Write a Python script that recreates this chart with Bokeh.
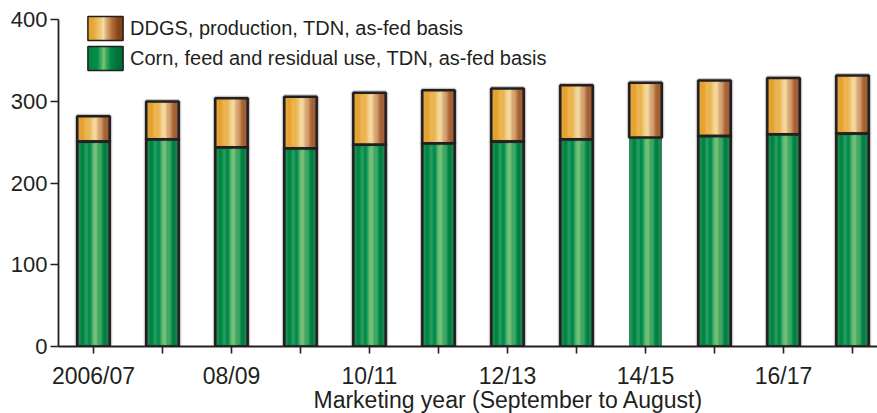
import numpy as np
from bokeh.plotting import figure
from bokeh.core.properties import value
from bokeh.models import (ColumnDataSource, Range1d, FixedTicker, Legend, LegendItem,
                          Title, CanvasTexture)
from bokeh.transform import dodge
from bokeh.embed import file_html
from bokeh.resources import INLINE

# ---------------- data ----------------
years = ["2006/07", "2007/08", "2008/09", "2009/10", "2010/11", "2011/12",
         "2012/13", "2013/14", "2014/15", "2015/16", "2016/17", "2017/18"]
tick_labels = ["2006/07", "", "08/09", "", "10/11", "", "12/13", "", "14/15", "", "16/17", ""]
corn = [251, 254, 244, 243, 247, 249, 251, 254, 256, 258, 260, 261]
ddgs = [31, 46, 60, 63, 64, 65, 65, 66, 67, 68, 69, 71]
y_ticks = [0, 100, 200, 300, 400]

# ---------------- styles ----------------
FONT = "Liberation Sans"
INK = "#231f20"
corn_outline_alpha = [1, 1, 1, 1, 1, 1, 1, 1, 0, 1, 1, 1]

green_stops = [(0.00, "#06703a"), (0.10, "#00843f"), (0.40, "#038d4a"), (0.52, "#4fb062"),
               (0.58, "#7cc47a"), (0.64, "#46ab5e"), (0.78, "#008845"), (1.00, "#006f37")]
orange_stops = [(0.00, "#e39a1f"), (0.30, "#e8a93a"), (0.50, "#f0cc80"), (0.57, "#f4dca2"),
                (0.66, "#dba872"), (0.82, "#b06c38"), (1.00, "#86401a")]


def hex2rgb(h):
    h = h.lstrip("#")
    return np.array([int(h[i:i + 2], 16) for i in (0, 2, 4)], dtype=float)


def interp_color(stops, t):
    ts = [s[0] for s in stops]
    cs = np.array([hex2rgb(s[1]) for s in stops])
    rgb = [np.interp(t, ts, cs[:, k]) for k in range(3)]
    return "#%02x%02x%02x" % tuple(int(round(v)) for v in rgb)


# legend glyph geometry (px); the swatch is inset 10% inside the glyph box
LEG_X = 83
GW = 44
SW0 = LEG_X + 0.1 * GW          # swatch left edge on the canvas
TILE = int(round(SW0))          # texture tile width so the tile starts at the swatch


def gradient_texture(stops):
    adds = "".join('g.addColorStop(%g, "%s");' % (t, c) for t, c in stops)
    g0 = SW0 - TILE
    g1 = g0 + 0.8 * GW
    code = ('var c = ctx.canvas; c.width = %d; c.height = 8;'
            'var g = ctx.createLinearGradient(%g, 0, %g, 0); %s'
            'ctx.fillStyle = g; ctx.fillRect(0, 0, %d, 8);'
            % (TILE, g0, g1, adds, TILE))
    return CanvasTexture(code=code)


x = list(range(len(years)))
total = [c + d for c, d in zip(corn, ddgs)]
src = ColumnDataSource(dict(x=x, year=years, corn=corn, ddgs=ddgs, total=total,
                            zero=[0] * len(x), corn_la=corn_outline_alpha,
                            halo_a=[0.55 * a for a in corn_outline_alpha]))

W = 0.47
N = 28

p = figure(width=877, height=413, output_backend="svg", toolbar_location=None,
           x_range=Range1d(-0.507, 11.362), y_range=Range1d(0, 414.06),
           min_border_left=58, min_border_right=0, min_border_top=8, min_border_bottom=67)
p.outline_line_color = None
p.xgrid.visible = False
p.ygrid.visible = False
p.background_fill_color = "white"

# soft grey halo
p.vbar(x="x", bottom="zero", top="corn", width=W, source=src, fill_color=None,
       line_color="#9a9a9a", line_alpha="halo_a", line_width=5)
p.vbar(x="x", bottom="corn", top="total", width=W, source=src, fill_color=None,
       line_color="#9a9a9a", line_alpha=0.55, line_width=5)

# gradient strips
for i in range(N):
    t = (i + 0.5) / N
    off = -W / 2 + t * W
    sw = W / N * 1.2
    p.vbar(x=dodge("x", off), bottom="zero", top="corn", width=sw, source=src,
           fill_color=interp_color(green_stops, t), line_color=None)
    p.vbar(x=dodge("x", off), bottom="corn", top="total", width=sw, source=src,
           fill_color=interp_color(orange_stops, t), line_color=None)

# outlines
p.vbar(x="x", bottom="zero", top="corn", width=W, source=src, fill_color=None,
       line_color=INK, line_alpha="corn_la", line_width=2.5)
p.vbar(x="x", bottom="corn", top="total", width=W, source=src, fill_color=None,
       line_color=INK, line_width=2.5)

# legend swatch renderers (degenerate in plot, gradient texture in legend)
lsrc = ColumnDataSource(dict(x=[0], y=[0]))
r_leg_o = p.vbar(x="x", bottom="y", top="y", width=0, source=lsrc, fill_color="#e6b055",
                 hatch_pattern=value("tex_o"), hatch_extra={"tex_o": gradient_texture(orange_stops)},
                 line_color=INK, line_width=1.5)
r_leg_g = p.vbar(x="x", bottom="y", top="y", width=0, source=lsrc, fill_color="#1f9450",
                 hatch_pattern=value("tex_g"), hatch_extra={"tex_g": gradient_texture(green_stops)},
                 line_color=INK, line_width=1.5)

legend = Legend(items=[LegendItem(label="DDGS, production, TDN, as-fed basis", renderers=[r_leg_o]),
                       LegendItem(label="Corn, feed and residual use, TDN, as-fed basis", renderers=[r_leg_g])],
                location=(LEG_X - 58, 273), orientation="vertical",
                glyph_width=GW, glyph_height=30, label_height=24, spacing=0,
                label_standoff=3, padding=0, margin=0,
                border_line_color=None, background_fill_alpha=0,
                label_text_font=FONT, label_text_font_size="20px", label_text_color=INK)
p.add_layout(legend, "center")

# axes
for ax in (p.xaxis[0], p.yaxis[0]):
    ax.axis_line_color = INK
    ax.axis_line_width = 1.8
    ax.major_tick_line_color = INK
    ax.major_tick_line_width = 1.6
    ax.minor_tick_line_color = None
    ax.major_tick_in = 0
    ax.major_label_text_font = FONT
    ax.major_label_text_color = INK

p.yaxis.ticker = FixedTicker(ticks=y_ticks)
p.yaxis.bounds = (0, 400)
p.yaxis.major_tick_out = 8
p.yaxis.major_label_standoff = 3
p.yaxis.major_label_text_font_size = "22px"

p.xaxis.ticker = FixedTicker(ticks=x)
p.xaxis.major_label_overrides = {i: lbl for i, lbl in zip(x, tick_labels)}
p.xaxis.major_tick_out = 7
p.xaxis.major_label_standoff = 9
p.xaxis.major_label_text_font_size = "23px"

p.add_layout(Title(text="Marketing year (September to August)", align="left", offset=255,
                   standoff=-14, text_font=FONT, text_font_size="23px", text_line_height=0.45,
                   text_font_style="normal", text_color=INK), "below")

open("out.html", "w").write(file_html(p, INLINE))
